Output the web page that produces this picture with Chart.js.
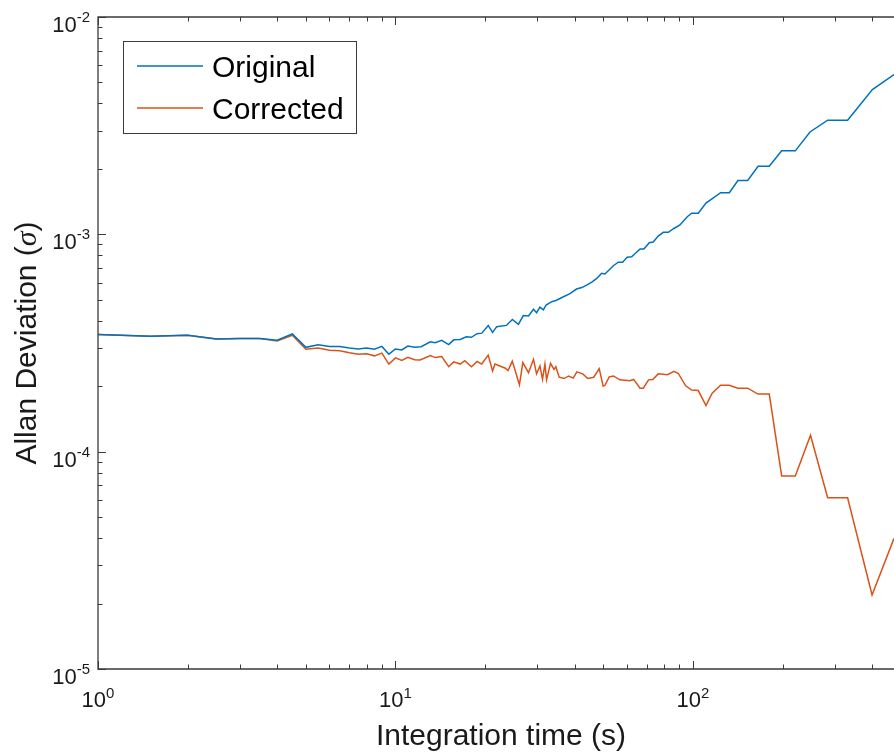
<!DOCTYPE html>
<html>
<head>
<meta charset="utf-8">
<title>Allan Deviation</title>
<script src="https://cdn.jsdelivr.net/npm/chart.js@4.4.1/dist/chart.umd.min.js"></script>
<style>
  html, body { margin: 0; padding: 0; background: #ffffff; }
  canvas { display: block; }
</style>
</head>
<body>
<canvas id="adev" width="894" height="755"></canvas>
<script>
// Integration times (s) and Allan deviations of the raw signal
const tauOriginal = [1, 1.5, 2, 2.5, 3, 3.5, 4, 4.5, 5, 5.5, 6, 6.5, 7, 7.5, 8, 8.5, 9, 9.5, 10, 10.5, 11,
  11.6, 12.2, 13.1, 13.6, 14.3, 15.1, 15.7, 16.5, 17.3, 18.0,
  18.8, 19.5, 20.5, 21.2, 21.9, 23.6, 24.7, 25.9, 26.9, 28.0,
  29.1, 29.8, 30.6, 31.4, 32.1, 33.5, 34.6, 36.7, 38.6, 40.6,
  42.3, 43.9, 45.7, 47.5, 49.3, 50.6, 54.0, 56.1, 58.0, 60.1,
  62.2, 64.2, 66.4, 68.4, 71.3, 73.5, 76.4, 79.5, 82.6, 86.3,
  90.4, 95.7, 99.0, 104.2, 110.6, 123.9, 132.5, 141.6, 152.7, 165.6,
  180.5, 198.7, 220.8, 247.4, 283.6, 331, 401, 474];
const adevOriginal = [3.46e-4, 3.40e-4, 3.43e-4, 3.30e-4, 3.32e-4, 3.32e-4, 3.26e-4, 3.48e-4, 3.02e-4, 3.10e-4,
  3.05e-4, 3.05e-4, 3.00e-4, 2.97e-4, 3.00e-4, 2.96e-4, 3.05e-4, 2.81e-4, 2.97e-4, 2.94e-4, 3.06e-4,
  3.02e-4, 3.04e-4, 3.20e-4, 3.17e-4, 3.25e-4, 3.11e-4, 3.27e-4, 3.28e-4, 3.38e-4, 3.36e-4,
  3.49e-4, 3.51e-4, 3.81e-4, 3.54e-4, 3.76e-4, 3.81e-4, 4.06e-4, 3.85e-4, 4.23e-4, 4.21e-4,
  4.52e-4, 4.36e-4, 4.62e-4, 4.49e-4, 4.73e-4, 4.90e-4, 4.96e-4, 5.16e-4, 5.34e-4, 5.60e-4,
  5.69e-4, 5.84e-4, 6.03e-4, 6.27e-4, 6.62e-4, 6.57e-4, 7.17e-4, 7.44e-4, 7.44e-4, 7.84e-4,
  7.89e-4, 8.20e-4, 8.56e-4, 8.56e-4, 9.15e-4, 9.22e-4, 9.82e-4, 1.022e-3, 1.022e-3, 1.064e-3,
  1.104e-3, 1.205e-3, 1.25e-3, 1.25e-3, 1.393e-3, 1.554e-3, 1.554e-3, 1.769e-3, 1.769e-3, 2.058e-3,
  2.058e-3, 2.422e-3, 2.422e-3, 2.958e-3, 3.351e-3, 3.351e-3, 4.634e-3, 5.436e-3];

// Integration times (s) and Allan deviations after correction
const tauCorrected = [1, 1.5, 2, 2.5, 3, 3.5, 4, 4.5, 5, 5.5, 6, 6.5, 7, 7.5, 8, 8.5, 9, 9.5, 10, 10.5, 11,
  11.6, 12.1, 13.1, 13.6, 14.3, 15.1, 15.7, 16.5, 17.1, 18.0,
  18.8, 19.5, 20.5, 21.2, 21.6, 23.4, 23.9, 24.7, 26.1, 26.8,
  28.0, 29.1, 29.8, 30.6, 31.2, 31.8, 32.2, 33.2, 34.1, 34.6,
  35.5, 36.9, 38.2, 39.6, 40.7, 42.6, 44.3, 46.4, 48.4, 49.9,
  50.6, 52.3, 54.0, 56.8, 61.3, 63.2, 66.4, 68.1, 70.9, 73.3,
  76.4, 82.1, 86.3, 89.3, 94.5, 99.0, 104.2, 110.6, 116.0, 123.9,
  132.5, 141.6, 152.7, 165.4, 180.5, 198.7, 220.8, 248.4, 283.6, 331,
  400, 474];
const adevCorrected = [3.46e-4, 3.40e-4, 3.43e-4, 3.30e-4, 3.32e-4, 3.32e-4, 3.23e-4, 3.43e-4, 2.96e-4, 3.00e-4,
  2.93e-4, 2.91e-4, 2.85e-4, 2.81e-4, 2.82e-4, 2.76e-4, 2.84e-4, 2.53e-4, 2.70e-4, 2.63e-4, 2.72e-4,
  2.65e-4, 2.64e-4, 2.77e-4, 2.71e-4, 2.74e-4, 2.46e-4, 2.59e-4, 2.53e-4, 2.62e-4, 2.46e-4,
  2.60e-4, 2.53e-4, 2.78e-4, 2.35e-4, 2.53e-4, 2.42e-4, 2.36e-4, 2.61e-4, 2.03e-4, 2.57e-4,
  2.31e-4, 2.66e-4, 2.28e-4, 2.48e-4, 2.15e-4, 2.53e-4, 2.14e-4, 2.55e-4, 2.39e-4, 2.46e-4,
  2.20e-4, 2.17e-4, 2.23e-4, 2.18e-4, 2.33e-4, 2.28e-4, 2.17e-4, 2.20e-4, 2.41e-4, 2.00e-4,
  2.02e-4, 2.21e-4, 2.23e-4, 2.14e-4, 2.12e-4, 2.15e-4, 1.96e-4, 1.96e-4, 2.14e-4, 2.15e-4,
  2.28e-4, 2.26e-4, 2.34e-4, 2.29e-4, 2.01e-4, 1.92e-4, 1.91e-4, 1.63e-4, 1.86e-4, 2.02e-4,
  2.02e-4, 1.96e-4, 1.96e-4, 1.84e-4, 1.84e-4, 7.73e-5, 7.73e-5, 1.19e-4, 6.14e-5, 6.14e-5,
  2.19e-5, 3.99e-5];

// Axis ranges, decade tick exponents and texts
const xRange = [1, 474];
const yRange = [1e-5, 1e-2];
const xTickExponents = [0, 1, 2];
const yTickExponents = [-5, -4, -3, -2];
const seriesNames = ['Original', 'Corrected'];
const xTitle = 'Integration time (s)';
const yTitleParts = ['Allan Deviation (', '\u03C3', ')'];

const BLUE = '#0072BD';
const ORANGE = '#D95319';
const AXIS = '#3a3a3a';
const TEXT = '#1a1a1a';
const SANS = '"Liberation Sans", Arial, Helvetica, sans-serif';

const toPoints = (xs, ys) => xs.map((t, i) => ({ x: t, y: ys[i] }));

function drawPower(ctx, exp, left, baseline, expBaseline) {
  const base = '10', sup = String(exp);
  ctx.font = '22px ' + SANS;
  const wb = ctx.measureText(base).width;
  ctx.fillText(base, left, baseline);
  ctx.font = '15px ' + SANS;
  ctx.fillText(sup, left + wb, expBaseline);
}
function powerWidth(ctx, exp) {
  ctx.font = '22px ' + SANS;
  const wb = ctx.measureText('10').width;
  ctx.font = '15px ' + SANS;
  return wb + ctx.measureText(String(exp)).width;
}

// Box, inward ticks, power-of-ten labels and axis titles
const axesFrame = {
  id: 'axesFrame',
  afterDatasetsDraw(chart) {
    const { ctx, chartArea: a, scales: { x, y } } = chart;
    ctx.save();
    ctx.strokeStyle = AXIS;
    ctx.lineWidth = 1.3;
    ctx.beginPath();
    ctx.moveTo(a.right + 2, a.top); ctx.lineTo(a.left, a.top);
    ctx.lineTo(a.left, a.bottom); ctx.lineTo(a.right + 2, a.bottom);
    ctx.stroke();

    ctx.lineWidth = 1;
    ctx.beginPath();
    for (let k = xTickExponents[0]; k <= xTickExponents[xTickExponents.length - 1]; k++) {
      for (let m = 1; m <= 9; m++) {
        const v = m * Math.pow(10, k);
        if (v < xRange[0] || v > xRange[1]) continue;
        const px = Math.round(x.getPixelForValue(v)) + 0.5;
        const len = m === 1 ? 8 : 4.5;
        ctx.moveTo(px, a.bottom); ctx.lineTo(px, a.bottom - len);
        ctx.moveTo(px, a.top); ctx.lineTo(px, a.top + len);
      }
    }
    for (let k = yTickExponents[0]; k <= yTickExponents[yTickExponents.length - 1]; k++) {
      for (let m = 1; m <= 9; m++) {
        const v = m * Math.pow(10, k);
        if (v < yRange[0] || v > yRange[1]) continue;
        const py = Math.round(y.getPixelForValue(v)) + 0.5;
        const len = m === 1 ? 8 : 4.5;
        ctx.moveTo(a.left, py); ctx.lineTo(a.left + len, py);
      }
    }
    ctx.stroke();

    ctx.fillStyle = TEXT;
    ctx.textAlign = 'left';
    ctx.textBaseline = 'alphabetic';
    xTickExponents.forEach(e => {
      const px = x.getPixelForValue(Math.pow(10, e));
      const w = powerWidth(ctx, e);
      drawPower(ctx, e, px - w / 2, a.bottom + 38, a.bottom + 29);
    });
    yTickExponents.forEach(e => {
      const py = y.getPixelForValue(Math.pow(10, e));
      const w = powerWidth(ctx, e);
      drawPower(ctx, e, 90 - w, py + 15, py + 5);
    });

    // x title
    ctx.font = '30px ' + SANS;
    ctx.textAlign = 'center';
    ctx.fillText(xTitle, 501, 745);

    // y title, rotated, with an italic sigma
    ctx.save();
    ctx.translate(36, (a.top + a.bottom) / 2);
    ctx.rotate(-Math.PI / 2);
    ctx.textAlign = 'left';
    const fonts = ['30px ' + SANS, 'italic 30px "Liberation Serif", "DejaVu Serif", serif', '30px ' + SANS];
    let total = 0;
    const widths = yTitleParts.map((s, i) => { ctx.font = fonts[i]; const w = ctx.measureText(s).width; total += w; return w; });
    let cx = -total / 2;
    yTitleParts.forEach((s, i) => { ctx.font = fonts[i]; ctx.fillText(s, cx, 0); cx += widths[i]; });
    ctx.restore();
    ctx.restore();
  },
  afterDraw(chart) {
    // legend box in the upper left of the axes
    const { ctx } = chart;
    ctx.save();
    ctx.fillStyle = '#ffffff';
    ctx.fillRect(123.5, 41.5, 233, 92);
    ctx.strokeStyle = AXIS;
    ctx.lineWidth = 1;
    ctx.strokeRect(123.5, 41.5, 233, 92);
    const rows = [66, 108];
    chart.data.datasets.forEach((ds, i) => {
      ctx.strokeStyle = ds.borderColor;
      ctx.lineWidth = ds.borderWidth;
      ctx.beginPath();
      ctx.moveTo(137, rows[i]); ctx.lineTo(203, rows[i]);
      ctx.stroke();
      ctx.fillStyle = '#000000';
      ctx.font = '30px ' + SANS;
      ctx.textAlign = 'left';
      ctx.textBaseline = 'alphabetic';
      ctx.fillText(ds.label, 212, rows[i] + 11);
    });
    ctx.restore();
  }
};

new Chart(document.getElementById('adev'), {
  type: 'line',
  data: {
    datasets: [
      { label: seriesNames[0], data: toPoints(tauOriginal, adevOriginal), borderColor: BLUE, borderWidth: 1.5,
        pointRadius: 0, tension: 0, fill: false },
      { label: seriesNames[1], data: toPoints(tauCorrected, adevCorrected), borderColor: ORANGE, borderWidth: 1.5,
        pointRadius: 0, tension: 0, fill: false }
    ]
  },
  options: {
    responsive: false,
    devicePixelRatio: 1,
    animation: false,
    layout: { padding: { top: 17, right: 0, left: 0, bottom: 0 } },
    plugins: { legend: { display: false }, tooltip: { enabled: false } },
    scales: {
      x: {
        type: 'logarithmic', min: xRange[0], max: xRange[1],
        grid: { display: false }, border: { display: false }, ticks: { display: false },
        afterFit: s => { s.height = 86; }
      },
      y: {
        type: 'logarithmic', min: yRange[0], max: yRange[1],
        grid: { display: false }, border: { display: false }, ticks: { display: false },
        afterFit: s => { s.width = 98; }
      }
    }
  },
  plugins: [axesFrame]
});
</script>
</body>
</html>
